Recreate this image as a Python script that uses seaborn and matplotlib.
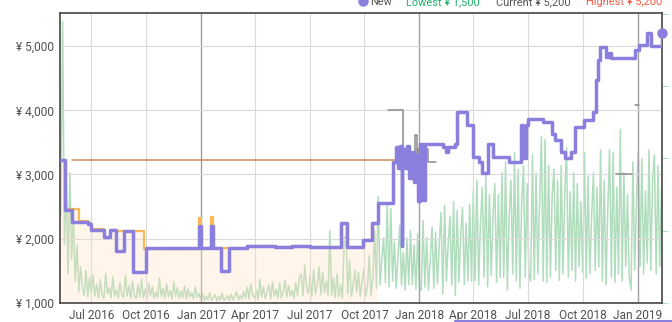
import numpy as np
import pandas as pd
import matplotlib
matplotlib.use("Agg")
import matplotlib.pyplot as plt
from matplotlib.lines import Line2D
import seaborn as sns

# ---------------- data ----------------
new_dates = ['2016-05-11', '2016-05-18', '2016-05-29', '2016-06-25', '2016-07-01', '2016-07-22',
             '2016-08-01', '2016-08-12', '2016-08-25', '2016-09-09', '2016-10-01', '2016-12-28',
             '2016-12-31', '2017-01-17', '2017-01-20', '2017-02-03', '2017-02-17', '2017-03-18',
             '2017-05-04', '2017-06-01', '2017-07-02', '2017-08-23', '2017-09-02', '2017-09-28',
             '2017-10-13', '2017-10-23', '2017-11-18', '2017-11-22', '2017-11-26', '2017-11-29',
             '2017-12-02', '2017-12-03', '2017-12-07', '2017-12-11', '2017-12-15', '2017-12-19',
             '2017-12-22', '2017-12-26', '2017-12-29', '2018-01-02', '2018-01-07', '2018-01-11',
             '2018-02-09', '2018-02-14', '2018-02-17', '2018-03-01', '2018-03-05', '2018-03-21',
             '2018-03-31', '2018-04-10', '2018-04-15', '2018-04-26', '2018-05-04', '2018-05-30',
             '2018-06-19', '2018-06-24', '2018-06-28', '2018-07-02', '2018-07-27', '2018-08-10',
             '2018-08-15', '2018-08-26', '2018-09-01', '2018-09-12', '2018-09-18', '2018-10-04',
             '2018-10-18', '2018-10-24', '2018-10-26', '2018-10-30', '2018-11-09', '2018-11-14',
             '2018-11-17', '2018-12-27', '2019-01-03', '2019-01-16', '2019-01-23', '2019-02-10']
new_prices = [3230, 2450, 2255, 2220, 2140, 2020,
              2140, 1810, 2125, 1485, 1855, 2190,
              1855, 2190, 1855, 1500, 1855, 1885,
              1870, 1885, 1870, 2245, 1875, 1970,
              2245, 2560, 3190, 3420, 3100, 3450,
              1890, 3400, 3100, 3450, 2950, 3350,
              2880, 3300, 2580, 3480, 2600, 3480,
              3430, 3350, 3430, 3480, 3970, 3765,
              3270, 3190, 3015, 3480, 3270, 3190,
              3765, 3250, 3765, 3870, 3820, 3635,
              3530, 3350, 3250, 3350, 3740, 3845,
              3970, 4470, 4780, 4990, 4830, 4890,
              4810, 4940, 5015, 5200, 5000, 5200]

amazon_dates = ['2016-05-11', '2016-05-18', '2016-06-11', '2016-06-25', '2016-07-01', '2016-07-22',
                '2016-08-01', '2016-08-12', '2016-09-27', '2016-12-28', '2016-12-31', '2017-01-17',
                '2017-01-20', '2017-03-18', '2017-05-04', '2017-06-01', '2017-07-02', '2017-08-23',
                '2017-09-02', '2017-09-28', '2017-10-13', '2017-10-23']
amazon_prices = [3230, 2460, 2280, 2240, 2150, 2020,
                 2140, 2115, 1840, 2325, 1855, 2330,
                 1855, 1885, 1870, 1885, 1870, 2245,
                 1875, 1970, 2245, 2245]

list_dates = ['2016-05-30', '2017-11-22']
list_prices = [3220, 3220]

used_dates = ['2017-11-09', '2017-12-05', '2017-12-25', '2017-12-27', '2017-12-29', '2018-01-15', '2018-01-28']
used_prices = [4000, 3300, 3610, 3300, 3390, 3190, 3190]
used2_dates = ['2018-11-25', '2018-12-22']
used2_prices = [3000, 3000]
used3_dates = ['2018-12-28', '2019-01-03']
used3_prices = [4080, 4080]

# sales rank (thousands), one reading every 3 days from rank_start
rank_start = '2016-05-11'
sales_rank_k = [
    12, 39, 8, 17, 4, 18, 6, 12, 3,
    8, 1.5, 5, 2.0, 1.0, 4.5, 0.8, 3.5, 1.2, 3.8, 0.9,
    2.6, 0.7, 3.2, 1.0, 0.6, 4.0, 1.2, 2.1, 0.7, 3.6, 0.9, 1.8, 0.6, 2.8, 1.1, 0.7, 3.8, 0.9, 2.4, 0.6,
    3.0, 1.0, 0.6, 2.5, 0.8, 3.3, 0.7, 1.9, 0.5, 2.7, 1.0, 2.2, 0.6, 1.5, 0.7, 3.4, 0.9, 2.0, 0.6, 2.6,
    0.8, 1.7, 0.5, 2.9, 0.9, 2.1, 0.6, 1.6, 0.7, 2.3, 0.5, 1.9, 0.8, 1.4, 0.5, 2.2, 0.7, 1.3,
    0.5, 1.2, 0.3, 0.9, 0.4, 1.4, 0.3, 0.7, 1.1, 0.2, 0.9, 0.4, 1.3, 0.3, 0.6, 1.0, 0.3, 1.2, 0.4, 0.8,
    1.5, 0.4, 1.0, 0.5, 1.6,
    0.6, 2.2, 0.5, 2.6, 1.0, 0.7, 1.8, 0.4, 3.3, 0.8, 2.2, 0.6, 1.4, 2.5, 0.5, 2.9, 0.9, 1.9, 0.6, 2.7,
    0.7, 1.5, 3.1, 0.8, 2.4, 0.9, 1.7, 0.6, 2.8, 1.0, 3.4,
    4.0, 1.0, 5.2, 2.0, 1.3, 3.8, 0.9, 4.6, 1.2, 2.5, 5.0, 1.1, 4.2, 1.4, 3.0, 1.0, 10.0,
    1.0, 3.5, 0.7, 4.0, 0.8, 2.5, 0.6, 8.9,
    9.3, 1.2, 5.9, 0.9, 2.5, 4.5, 1.5, 4.2, 0.8, 3.0, 4.6, 0.9, 2.2, 6.5, 1.0, 3.5, 10.0,
    2.0, 14.7, 2.5, 6.0, 9.0, 2.8, 13.8, 2.2, 13.1, 3.0, 8.5, 2.0, 6.5, 10.7, 2.4, 7.0, 1.8, 9.0, 2.5, 10.0,
    2.5, 8.0, 1.9, 9.5, 2.2,
    1.7, 11.4, 2.2, 9.0, 1.8, 6.0, 10.5, 2.0, 9.8, 2.6, 8.0,
    12.5, 1.2, 13.5, 3.0, 8.0, 12.0, 2.4, 14.0, 1.0, 12.8, 2.8, 9.5, 13.2, 2.5, 11.0, 3.0, 13.6,
    3.0, 15.5, 3.0, 17.0, 2.5, 11.0, 16.0, 3.5, 17.7, 2.2, 15.0, 3.8, 12.0, 16.5, 2.8, 15.0, 3.5,
    18.0, 3.5, 19.5, 1.7, 12.0, 17.0, 4.0, 20.8, 3.0, 18.5, 2.0, 14.0, 19.0, 3.5, 16.5, 4.0,
    3.0, 20.5, 3.2, 18.0, 4.0, 14.0, 23.0, 3.0, 22.6, 2.8, 19.0, 3.5, 15.0, 18.5, 4.5, 17.0, 3.1,
    19.0, 4.0, 15.0, 21.5, 3.5, 15.4, 4.5, 18.0, 3.0, 16.5, 5.0, 14.0, 4.2, 20.8, 3.4, 17.5, 4.0, 12.0,
    18.0, 4.5, 16.0, 5.0,
    21.2, 3.0, 17.0, 2.5, 13.0, 21.2, 3.5, 20.8, 2.8, 16.0, 4.0, 24.0, 3.0, 18.0, 5.0, 15.0, 3.5,
    1.7, 19.5, 4.5, 14.0, 21.0, 5.0, 20.0, 4.0, 15.5, 5.5, 21.2, 4.5, 17.0, 20.5, 4.0, 19.0, 5.0, 16.0,
]

xtick_dates = ['2016-07-01', '2016-10-01', '2017-01-01', '2017-04-01', '2017-07-01', '2017-10-01',
               '2018-01-01', '2018-04-01', '2018-07-01', '2018-10-01', '2019-01-01']
xtick_labels = ['Jul 2016', 'Oct 2016', 'Jan 2017', 'Apr 2017', 'Jul 2017', 'Oct 2017',
                'Jan 2018', 'Apr 2018', 'Jul 2018', 'Oct 2018', 'Jan 2019']
ytick_values = [1000, 2000, 3000, 4000, 5000]
ytick_labels = ['¥ 1,000', '¥ 2,000', '¥ 3,000', '¥ 4,000', '¥ 5,000']
rank_ticks = [0, 10, 20, 30, 40]

legend_labels = ['New', 'Lowest ¥ 1,500', 'Current ¥ 5,200', 'Highest ¥ 5,200']

# ---------------- style ----------------
sns.set_theme(style="white")
plt.rcParams['font.family'] = ['Roboto', 'DejaVu Sans']

PURPLE = '#8a7fdd'
ORANGE = '#fbb955'
BROWN = '#d08a5e'
GRAY = '#8c8c8c'
GREEN = '#b0ddbc'
TXT = '#505050'

fig = plt.figure(figsize=(6.72, 3.22), dpi=100)
ax = fig.add_axes([60 / 672, 1 - 302.7 / 322, 602 / 672, 289.4 / 322])
ax2 = ax.twinx()
ax.set_zorder(ax2.get_zorder() + 1)
ax.patch.set_visible(False)

to_dt = pd.to_datetime

# sales rank (secondary axis, underneath)
rank_dates = pd.date_range(rank_start, periods=len(sales_rank_k), freq='3D')
sns.lineplot(x=rank_dates, y=sales_rank_k, ax=ax2, color=GREEN, linewidth=1.1,
             estimator=None, sort=False, legend=False)
ax2.set_ylim(0, 40.1)
ax2.set_yticks(rank_ticks)
ax2.tick_params(axis='y', right=True, length=4, width=0.8, color=GREEN, labelright=False, direction='out')
for s in ax2.spines.values():
    s.set_visible(False)
ax2.set_ylabel('')

# amazon fill
ax.fill_between(to_dt(amazon_dates), amazon_prices, 1000, step='post',
                color='#ffe0c0', alpha=0.3, linewidth=0, zorder=0.6)

# list price
sns.lineplot(x=to_dt(list_dates), y=list_prices, ax=ax, color=BROWN, linewidth=1.1,
             estimator=None, sort=False, legend=False)
# amazon
sns.lineplot(x=to_dt(amazon_dates), y=amazon_prices, ax=ax, color=ORANGE, linewidth=1.6,
             drawstyle='steps-post', estimator=None, sort=False, legend=False)
# used
for d, p in [(used_dates, used_prices), (used2_dates, used2_prices), (used3_dates, used3_prices)]:
    sns.lineplot(x=to_dt(d), y=p, ax=ax, color=GRAY, linewidth=1.1,
                 drawstyle='steps-post', estimator=None, sort=False, legend=False)
# new
sns.lineplot(x=to_dt(new_dates), y=new_prices, ax=ax, color=PURPLE, linewidth=2.5,
             drawstyle='steps-post', estimator=None, sort=False, legend=False, zorder=5)
ax.plot([to_dt(new_dates[-1])], [new_prices[-1]], 'o', color=PURPLE, ms=6.5,
        clip_on=False, zorder=6)

# axes
ax.set_xlim(to_dt('2016-05-09 14:00'), to_dt('2019-02-10 17:00'))
ax.set_ylim(1000, 5512)
ax.set_xticks(to_dt(xtick_dates))
ax.set_xticklabels(xtick_labels)
ax.set_yticks(ytick_values)
ax.set_yticklabels(ytick_labels)
ax.set_xlabel('')
ax.set_ylabel('')
ax.tick_params(axis='x', length=0, pad=4.5, labelsize=8.6, labelcolor=TXT)
ax.tick_params(axis='y', length=0, pad=4, labelsize=8.6, labelcolor=TXT)
ax.grid(True, color='#dadada', linewidth=0.8)
ax.set_axisbelow(True)
for t, lab in zip(ax.xaxis.get_major_ticks(), xtick_labels):
    if lab.startswith('Jan'):
        t.gridline.set_color('#a0a0a0')
        t.gridline.set_linewidth(1.0)
for s in ax.spines.values():
    s.set_visible(True)
    s.set_color('#454545')
    s.set_linewidth(1.2)

# legend (partly above the figure edge, as in the reference)
ly = 1 - 5 / 322
fig.add_artist(Line2D([363 / 672], [1 - 0.5 / 322], marker='o', ms=6.5, color=PURPLE,
                      linestyle='none', transform=fig.transFigure, clip_on=False))
legend_x = [370, 406.5, 496.5, 586]
legend_colors = ['#555555', '#1fb36a', '#555555', '#ff5540']
for lab, x, c in zip(legend_labels, legend_x, legend_colors):
    fig.text(x / 672, ly, lab, color=c, fontsize=7.9, va='baseline', ha='left')

# range selector underline
fig.add_artist(Line2D([455 / 672, 672 / 672], [1 - 320.7 / 322] * 2, color=PURPLE,
                      linewidth=1.5, transform=fig.transFigure))

fig.savefig('out.png', dpi=100, facecolor='white')
